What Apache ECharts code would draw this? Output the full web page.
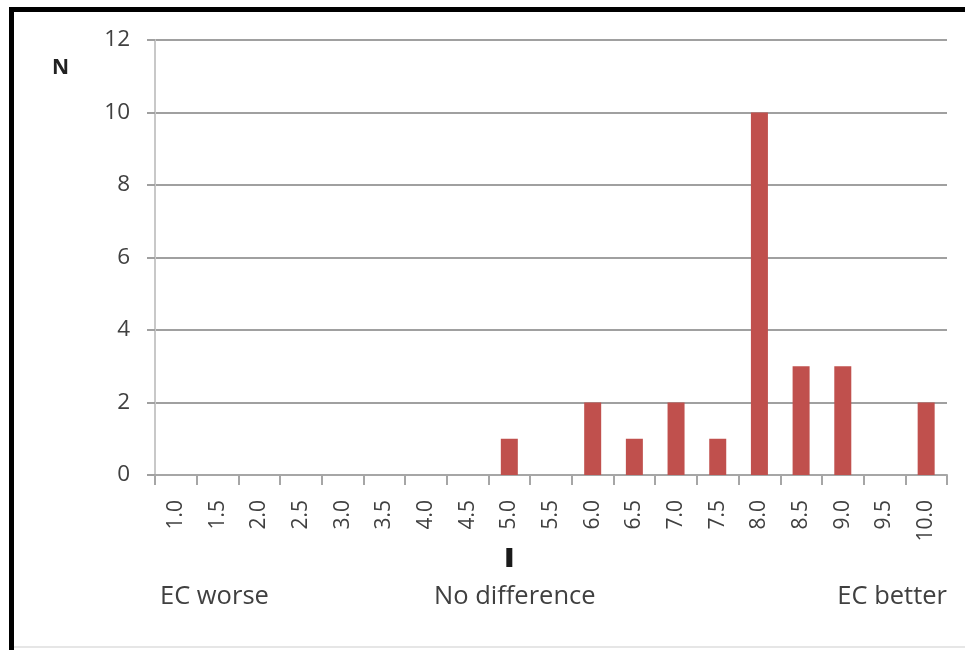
<!DOCTYPE html>
<html><head><meta charset="utf-8">
<script src="https://cdn.jsdelivr.net/npm/echarts@6/dist/echarts.min.js"></script>
<style>html,body{margin:0;padding:0;background:#fff}#c{width:965px;height:650px}</style>
</head><body><div id="c"></div>
<script>
const categories = ['1.0','1.5','2.0','2.5','3.0','3.5','4.0','4.5','5.0','5.5','6.0','6.5','7.0','7.5','8.0','8.5','9.0','9.5','10.0'];
const counts = [0,0,0,0,0,0,0,0,1,0,2,1,2,1,10,3,3,0,2];
const yTicks = [0,2,4,6,8,10,12];
const bottomLabels = ['EC worse','No difference','EC better'];

const font = '"Open Sans", "Noto Sans", sans-serif';
const chart = echarts.init(document.getElementById('c'), null, {renderer:'canvas'});
chart.setOption({
  animation:false,
  backgroundColor:'#fff',
  grid:{left:155,right:18,top:40,bottom:175,containLabel:false},
  xAxis:{
    type:'category', data:categories, boundaryGap:true,
    axisLine:{show:true,lineStyle:{color:'#a6a6a6',width:2}},
    axisTick:{show:true,length:10,alignWithLabel:false,interval:0,lineStyle:{color:'#a6a6a6',width:2}},
    axisLabel:{rotate:90,interval:0,margin:25,fontSize:21,color:'#404040',fontFamily:font}
  },
  yAxis:{
    type:'value', min:0, max:12, interval:2,
    axisLine:{show:true,lineStyle:{color:'#c8c8c8',width:2}},
    axisTick:{show:true,length:8,lineStyle:{color:'#a0a0a0',width:2}},
    axisLabel:{margin:25,fontSize:22.5,color:'#404040',fontFamily:font,
      formatter:v=>yTicks.includes(v)?String(v):''},
    splitLine:{show:true,lineStyle:{color:'#a0a0a0',width:2}}
  },
  series:[{type:'bar',data:counts,barWidth:17,itemStyle:{color:'#C0504D'}}],
  graphic:[
    {type:'rect',left:9,top:7,shape:{width:956,height:5},style:{fill:'#000'}},
    {type:'rect',left:9,top:7,shape:{width:5,height:643},style:{fill:'#000'}},
    {type:'rect',left:14,top:646,shape:{width:951,height:2},style:{fill:'#e6e6e6'}},
    {type:'text',left:52,top:58,style:{text:'N',font:'bold 21px '+font,fill:'#222'}},
    {type:'text',left:160,top:584,style:{text:bottomLabels[0],font:'25.5px '+font,fill:'#404040'}},
    {type:'text',left:434,top:584,style:{text:bottomLabels[1],font:'25.5px '+font,fill:'#404040'}},
    {type:'text',right:18,top:584,style:{text:bottomLabels[2],font:'25.5px '+font,fill:'#404040'}}
  ]
});
const px = chart.convertToPixel({xAxisIndex:0}, '5.0');
chart.setOption({graphic:[{type:'rect',id:'mark',left:px-3,top:548,shape:{width:6,height:19},style:{fill:'#1a1a1a'}}]});
</script></body></html>
